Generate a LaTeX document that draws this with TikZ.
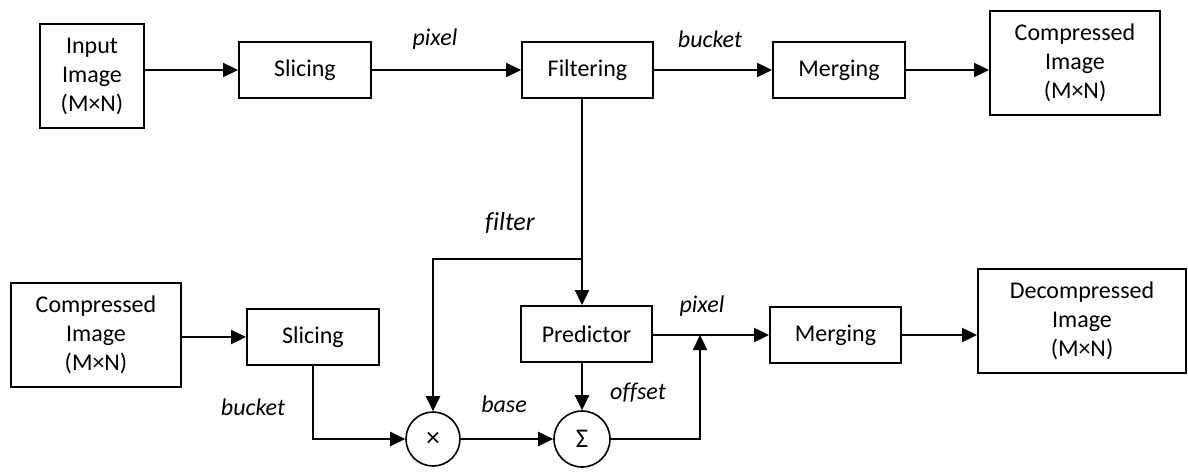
\documentclass[tikz,border=0pt]{standalone}
\usepackage{fontspec}
\setmainfont{Carlito}
\usetikzlibrary{arrows.meta,calc}
\begin{document}
\begin{tikzpicture}[x=1pt,y=-1pt,
  font=\fontsize{24}{29}\selectfont,
  blk/.style={draw,line width=2pt,minimum width=#1,minimum height=56pt,inner sep=0pt,align=center},
  big/.style={draw,line width=2pt,minimum width=#1,minimum height=104pt,inner sep=0pt,align=center},
  op/.style={draw,line width=1.6pt,circle,minimum size=#1,inner sep=0pt,font=\fontsize{27}{29}\selectfont},
  conn/.style={line width=2.3pt,-{Triangle[length=15pt,width=14pt]}},
  lbl/.style={font=\fontsize{24}{29}\selectfont\itshape}
]
\useasboundingbox (0,0) rectangle (1188,472);
% top row
\node[big=104pt] (in) at (92,76) {Input\\Image\\(M×N)};
\node[blk=132pt] (sl1) at (305,70) {Slicing};
\node[blk=131pt] (filt) at (587.5,70) {Filtering};
\node[blk=132pt] (mg1) at (839,70) {Merging};
\node[big=170pt] (cmp) at (1075,63) {Compressed\\Image\\(M×N)};
% bottom row
\node[big=170pt] (cmp2) at (96,335) {Compressed\\Image\\(M×N)};
\node[blk=132pt] (sl2) at (313,337) {Slicing};
\node[blk=131pt] (pred) at (586.5,334) {Predictor};
\node[blk=131pt] (mg2) at (835.5,335) {Merging};
\node[big=208pt] (dec) at (1082,321) {Decompressed\\Image\\(M×N)};
\node[op=54pt] (mul) at (433,439) {×};
\node[op=56pt] (sum) at (582,439) {Σ};
\coordinate (j1) at (582,259);
\coordinate (j2) at (700,335);
% labels
\node[lbl] (lpix1) at (435,39) {pixel};
\node[lbl] (lbuck1) at (710,39) {bucket};
\node[lbl,font=\fontsize{26}{29}\selectfont\itshape] (lfilt) at (510,223) {f\kern0pt ilter};
\node[lbl] (lbuck2) at (253,407) {bucket};
\node[lbl] (lbase) at (504,404) {base};
\node[lbl] (loff) at (638,393) {of\kern0pt fset};
\node[lbl] (lpix2) at (702,306) {pixel};
% connectors top
\draw[conn] (in.east |- sl1) -- (sl1.west);
\draw[conn] (sl1.east) -- (filt.west);
\draw[conn] (filt.east) -- (mg1.west);
\draw[conn] (mg1.east) -- (mg1.east -| cmp.west);
\draw[conn] (filt.south -| sum) -- (pred.north -| sum);
\draw[conn] (j1) -| (mul.north);
% connectors bottom
\draw[conn] (cmp2.east |- sl2) -- (sl2.west);
\draw[conn] (sl2.south) |- (mul.west);
\draw[conn] (mul.east) -- (sum.west);
\draw[conn] (pred.south -| sum) -- (sum.north);
\draw[conn] (sum.east) -| (j2);
\draw[conn] (pred.east |- j2) -- (mg2.west |- j2);
\draw[conn] (mg2.east) -- (mg2.east -| dec.west);
\end{tikzpicture}
\end{document}
